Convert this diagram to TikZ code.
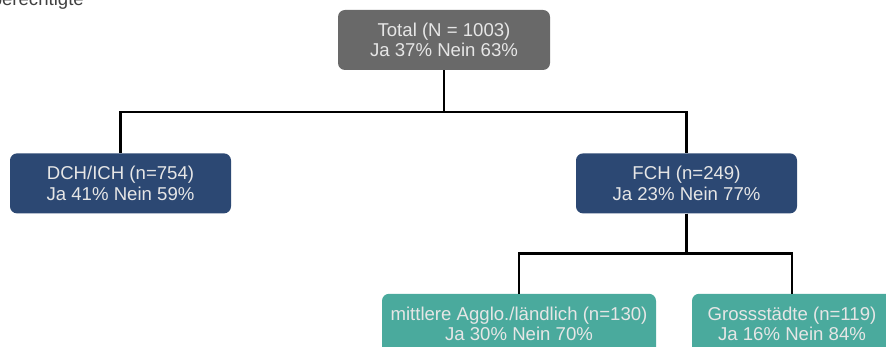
\documentclass[tikz,border=0pt]{standalone}
\usepackage{fontspec}
\setmainfont{Liberation Sans}
\usepackage{tikz}
\usetikzlibrary{positioning}
\definecolor{totalgray}{HTML}{696969}
\definecolor{regionblue}{HTML}{2C4873}
\definecolor{subteal}{HTML}{4AAA9D}
\definecolor{boxtext}{HTML}{E6E6E6}

\begin{document}
\begin{tikzpicture}[x=1pt, y=1pt,
  basebox/.style={rectangle, rounded corners=7pt, text=boxtext, align=center,
    minimum height=60pt, inner sep=0pt, font=\fontsize{18.6}{20.5}\selectfont},
  totalbox/.style={basebox, fill=totalgray, minimum width=212pt},
  regionbox/.style={basebox, fill=regionblue, minimum width=221pt},
  subbox/.style={basebox, fill=subteal},
  treeline/.style={line width=2.6pt, black},
]
\useasboundingbox (0,0) rectangle (886,-347);
\clip (0,0) rectangle (886,-347);

% Title (cut off at the top)
\node[anchor=base east, inner sep=0pt, text=black!75, font=\fontsize{18.6}{20}\selectfont] (title) at (84,-6) {berechtigte};

% Nodes
\node[totalbox] (total) at (444,-40) {Total (N = 1003)\\Ja 37\% Nein 63\%};
\node[regionbox] (dch) [below=83pt of total, xshift=-323.5pt] {DCH/ICH (n=754)\\Ja 41\% Nein 59\%};
\node[regionbox] (fch) [below=83pt of total, xshift=242.5pt] {FCH (n=249)\\Ja 23\% Nein 77\%};
\node[subbox, minimum width=274pt] (agglo) [below=80pt of fch, xshift=-167.5pt] {mittlere Agglo./l\"andlich (n=130)\\Ja 30\% Nein 70\%};
\node[subbox, minimum width=200pt] (gross) [below=80pt of fch, xshift=105.5pt] {Grossst\"adte (n=119)\\Ja 16\% Nein 84\%};

% Lines
\draw[treeline] (total.south) -- ++(0,-42) -| (dch.north);
\draw[treeline] (total.south) -- ++(0,-42) -| (fch.north);
\draw[treeline] (fch.south) -- ++(0,-40) -| (agglo.north);
\draw[treeline] (fch.south) -- ++(0,-40) -| (gross.north);

\end{tikzpicture}
\end{document}
